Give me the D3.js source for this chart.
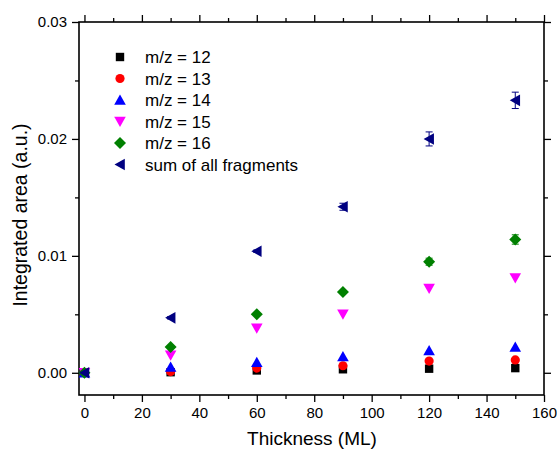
<!DOCTYPE html>
<html>
<head>
<meta charset="utf-8">
<script src="https://cdn.jsdelivr.net/npm/d3@7"></script>
<style>
  body { margin: 0; background: #fff; }
  svg text { font-family: "Liberation Sans", Arial, sans-serif; fill: #000; }
</style>
</head>
<body>
<svg id="chart"></svg>
<script>
// Data
const thickness = [0, 30, 60, 90, 120, 150];
const mz12 = [0, 0.00005, 0.0002, 0.0003, 0.00035, 0.0004];
const mz13 = [0, 0.0001, 0.0004, 0.0006, 0.0010, 0.0011];
const mz14 = [0, 0.0005, 0.0009, 0.0014, 0.0019, 0.0022];
const mz15 = [0, 0.0015, 0.0038, 0.0050, 0.0072, 0.0081];
const mz16 = [0, 0.0022, 0.0050, 0.0069, 0.0095, 0.0114];
const mz16Err = [0, 0, 0, 0, 0.0003, 0.0004];
const sumAll = [0, 0.0047, 0.0104, 0.0142, 0.0200, 0.0233];
const sumErr = [0, 0.0001, 0.0001, 0.0003, 0.0006, 0.0007];

const xTicks = [0, 20, 40, 60, 80, 100, 120, 140, 160];
const yTicks = [0, 0.01, 0.02, 0.03];

const series = [
  { name: 'm/z = 12', values: mz12, err: null, color: '#000000', shape: 'square' },
  { name: 'm/z = 13', values: mz13, err: null, color: '#ff0000', shape: 'circle' },
  { name: 'm/z = 14', values: mz14, err: null, color: '#0000ff', shape: 'up' },
  { name: 'm/z = 15', values: mz15, err: null, color: '#ff00ff', shape: 'down' },
  { name: 'm/z = 16', values: mz16, err: mz16Err, color: '#008000', shape: 'diamond' },
  { name: 'sum of all fragments', values: sumAll, err: sumErr, color: '#000080', shape: 'left' }
];

const W = 557, H = 454;
const margin = { top: 22, right: 13, bottom: 59, left: 79 };
const width = W - margin.left - margin.right;
const height = H - margin.top - margin.bottom;

const svg = d3.select('#chart').attr('width', W).attr('height', H);
const g = svg.append('g').attr('transform', `translate(${margin.left},${margin.top})`);

const x = d3.scaleLinear().domain([-1.9, 160]).range([0, width]);
const y = d3.scaleLinear().domain([-0.0019, 0.03]).range([height, 0]);

// symbol path for a given shape, centred at 0,0
function shapePath(shape) {
  switch (shape) {
    case 'square': return 'M-4.2,-4.2H4.2V4.2H-4.2Z';
    case 'circle': return d3.symbol(d3.symbolCircle, 66)();
    case 'up': return 'M0,-5.5L5.8,4.8H-5.8Z';
    case 'down': return 'M0,5.5L5.8,-4.8H-5.8Z';
    case 'diamond': return 'M0,-6L6,0L0,6L-6,0Z';
    case 'left': return 'M-5.5,0L4.8,-5.8V5.8Z';
  }
}

// axes: outward ticks on all four sides
const fmtY = d3.format('.2f');
const minorX = d3.range(10, 160, 20);
const minorY = [0.005, 0.015, 0.025];
const bottomAxis = d3.axisBottom(x).tickValues(xTicks).tickSize(7).tickPadding(5);
const bottomMinor = d3.axisBottom(x).tickValues(minorX).tickSize(4).tickFormat('');
const leftAxis = d3.axisLeft(y).tickValues(yTicks).tickFormat(fmtY).tickSize(7).tickPadding(5);
const leftMinor = d3.axisLeft(y).tickValues(minorY).tickSize(4).tickFormat('');

g.append('g').attr('transform', `translate(0,${height})`).call(bottomAxis);
g.append('g').attr('transform', `translate(0,${height})`).call(bottomMinor);
g.append('g').call(leftAxis);
g.append('g').call(leftMinor);
g.append('g').call(d3.axisTop(x).tickValues(xTicks).tickSize(7).tickFormat(''));
g.append('g').call(d3.axisTop(x).tickValues(minorX).tickSize(4).tickFormat(''));
g.append('g').attr('transform', `translate(${width},0)`)
  .call(d3.axisRight(y).tickValues(yTicks).tickSize(7).tickFormat(''));
g.append('g').attr('transform', `translate(${width},0)`)
  .call(d3.axisRight(y).tickValues(minorY).tickSize(4).tickFormat(''));

g.selectAll('.domain').remove();
g.selectAll('.tick line').attr('stroke', '#000').attr('stroke-width', 1.3);
g.selectAll('.tick text').style('font-size', '15px').style('font-family', '"Liberation Sans", Arial, sans-serif');

g.append('rect')
  .attr('width', width).attr('height', height)
  .attr('fill', 'none').attr('stroke', '#000').attr('stroke-width', 1.6);

// axis titles
svg.append('text')
  .attr('x', 312).attr('y', 445)
  .attr('text-anchor', 'middle').style('font-size', '19px')
  .text('Thickness (ML)');
svg.append('text')
  .attr('transform', `translate(27,215) rotate(-90)`)
  .attr('text-anchor', 'middle').style('font-size', '19.5px')
  .text('Integrated area (a.u.)');

// data
series.forEach(s => {
  const pts = thickness.map((t, i) => ({ t, v: s.values[i], e: s.err ? s.err[i] : 0 }));
  const grp = g.append('g');
  const eb = grp.selectAll('.err').data(pts.filter(d => d.e > 0)).enter().append('g');
  eb.append('line')
    .attr('x1', d => x(d.t)).attr('x2', d => x(d.t))
    .attr('y1', d => y(d.v - d.e)).attr('y2', d => y(d.v + d.e))
    .attr('stroke', s.color).attr('stroke-width', 1);
  [-1, 1].forEach(sign => {
    eb.append('line')
      .attr('x1', d => x(d.t) - 3.5).attr('x2', d => x(d.t) + 3.5)
      .attr('y1', d => y(d.v + sign * d.e)).attr('y2', d => y(d.v + sign * d.e))
      .attr('stroke', s.color).attr('stroke-width', 1);
  });
  grp.selectAll('.pt').data(pts).enter().append('path')
    .attr('d', shapePath(s.shape))
    .attr('transform', d => `translate(${x(d.t)},${y(d.v)})`)
    .attr('fill', s.color);
});

// legend
const legend = svg.append('g').attr('transform', 'translate(120,57)');
series.forEach((s, i) => {
  const row = legend.append('g').attr('transform', `translate(0,${i * 21.5})`);
  row.append('path').attr('d', shapePath(s.shape)).attr('fill', s.color);
  row.append('text').attr('x', 25).attr('y', 6).style('font-size', '17px').text(s.name);
});
</script>
</body>
</html>
